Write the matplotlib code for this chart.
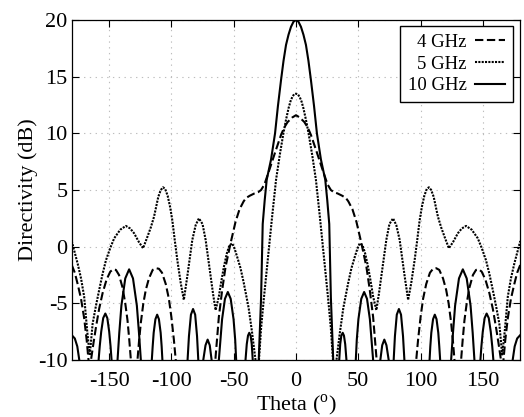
import numpy as np
import matplotlib
matplotlib.use('Agg')
import matplotlib.pyplot as plt

# right half of each pattern (theta >= 0), the plot is symmetric about 0
theta_4 = [0, 3, 6.7, 9.5, 12, 16.5, 21.3, 25.3, 28, 30.5, 33.3, 37, 40, 42, 45.3, 48.5, 52.5, 56.5, 59.2, 61.9, 64.5, 67,
           80, 96.5, 98, 100, 102, 104.5, 107.5, 110, 112.5, 115, 118, 120.5, 122.5, 124.5, 126, 127.2, 129.9,
           132.5, 133.8, 135.2, 137, 139.2, 142, 144.5, 146.7, 149, 152, 155.2, 158, 160.5, 162.5, 164.5, 165.5,
           166.5, 168, 170, 172.5, 175.2, 177.5, 180]
dir_4 = [11.6, 11.4, 11.0, 10.5, 9.86, 8.4, 6.8, 5.5, 5.0, 4.8, 4.7, 4.5, 4.3, 4.0, 3.3, 2.2, 0.3, -1.77, -3.8, -6.2, -9.7, -14,
         -30, -10, -8.2, -6.2, -4.6, -3.3, -2.3, -1.95, -1.9, -2.05, -2.8, -3.8, -5.0, -6.7, -8.4, -10, -16,
         -10, -8.2, -6.5, -5.0, -3.6, -2.5, -2.05, -2.0, -2.2, -2.9, -4.1, -5.5, -7.1, -8.5, -10, -13,
         -10, -8.2, -6.3, -4.6, -3.3, -2.3, -1.6]

theta_5 = [0, 1.5, 3, 4.5, 6, 8, 10.1, 13, 16, 19.2, 22.5, 25.9, 28, 29.7, 31, 32.5,
           35.2, 38, 41.9, 44.5, 47.2, 49.2, 51.2, 53.5, 55.5, 57.9, 60, 61.9, 64.5,
           66.5, 68.5, 70.5, 72.5, 75, 77.9, 80.5, 83.2, 85.2, 87.2, 90,
           92.5, 95.2, 97.2, 99.2, 101, 103, 105, 106.7, 108.5, 110.5, 113.9, 116.5, 119.2, 122.7,
           126, 129.9, 133, 136.5, 141, 145.9, 149, 152.5, 155.2, 157.9, 160.5, 163.2, 165.5,
           167.5, 170, 172.5, 175.2, 180]
dir_5 = [13.5, 13.45, 13.2, 12.8, 12.2, 11.2, 10.0, 8.1, 5.9, 2.6, -1.0, -4.7, -7.2, -10, -13, -10,
         -7.6, -5.4, -3.2, -1.9, -0.9, -0.2, 0.3, 0.1, -0.6, -1.8, -3.1, -4.4, -5.6,
         -4.2, -2.6, -1.0, 0.6, 2.0, 2.5, 1.9, 0.6, -1.0, -2.6, -4.7,
         -3.2, -1.2, 0.5, 2.3, 3.5, 4.5, 5.1, 5.24, 5.0, 4.4, 2.65, 1.7, 0.88, -0.14,
         0.4, 1.18, 1.6, 1.83, 1.5, 0.74, -0.1, -1.2, -2.4, -3.8, -5.2, -6.8, -9.6,
         -7.5, -4.4, -2.8, -1.5, 0.5]

theta_10 = [0, 2, 4, 6, 8, 10, 12, 14.5, 16.8, 20, 23.5, 25.1, 26.7, 28, 29.9, 31.8,
            34.7, 35.5, 36.4, 37.5, 38.5, 39.5, 40.5, 44,
            48, 48.8, 50.1, 52.4, 54.7, 57.0, 59.3, 60.6, 61.9, 64.8,
            67.7, 69.2, 70.9, 72.6, 74.4, 76,
            78.4, 79.4, 80.9, 82.6, 84.3, 85.9, 87, 97,
            107.2, 107.8, 108.6, 110, 111.4, 112.8, 114.2, 115, 115.7, 120,
            124.5, 126, 127.7, 130.8, 133.9, 137, 140.1, 141.8, 143.2, 145.6,
            148, 148.8, 149.9, 151.4, 153, 154.7, 156.3, 157.5, 158.4, 165,
            173.9, 175.5, 177.5, 180]
dir_10 = [20, 19.85, 19.4, 18.7, 17.8, 16.4, 14.7, 12.4, 10, 7.7, 5.9, 4.1, 2.0, -4.5, -10, -25,
          -10, -8.6, -7.85, -7.6, -7.85, -8.6, -10, -25,
          -10, -8.2, -6.4, -4.6, -4.0, -4.6, -6.4, -8.2, -10, -25,
          -10, -8.7, -8.2, -8.7, -10, -25,
          -10, -7.9, -6.0, -5.5, -6.0, -7.9, -10, -25,
          -10, -8.8, -7.6, -6.4, -6.0, -6.4, -7.6, -8.8, -10, -25,
          -10, -7.6, -5.2, -2.8, -2.0, -2.8, -5.2, -7.6, -10, -25,
          -10, -8.8, -7.5, -6.3, -5.9, -6.3, -7.5, -8.8, -10, -25,
          -10, -8.8, -8.1, -7.8]

labels = ['4 GHz', '5 GHz', '10 GHz']


def mirror(t, d):
    t = np.asarray(t, dtype=float)
    d = np.asarray(d, dtype=float)
    return np.concatenate([-t[:0:-1], t]), np.concatenate([d[:0:-1], d])


plt.rcParams['font.family'] = ['Liberation Serif', 'DejaVu Serif']
plt.rcParams['mathtext.fontset'] = 'custom'
plt.rcParams['mathtext.rm'] = 'Liberation Serif'
plt.rcParams['axes.unicode_minus'] = False

fig = plt.figure(figsize=(5.24, 4.17), dpi=100)
ax = fig.add_axes([0.1368, 0.1367, 0.8561, 0.8153])

t, d = mirror(theta_4, dir_4)
ax.plot(t, d, color='black', lw=1.5, dashes=(4, 1.7), label=labels[0])
t, d = mirror(theta_5, dir_5)
ax.plot(t, d, color='black', lw=1.5, dashes=(1, 0.6), label=labels[1])
t, d = mirror(theta_10, dir_10)
ax.plot(t, d, color='black', lw=1.5, label=labels[2])

ax.set_xlim(-180, 180)
ax.set_ylim(-10, 20)
ax.set_xticks([-150, -100, -50, 0, 50, 100, 150])
ax.set_yticks([-10, -5, 0, 5, 10, 15, 20])
ax.grid(True, color='#bdbdbd', lw=0.8, dashes=(1.2, 4))
ax.tick_params(direction='in', length=5, width=0.8, labelsize=16,
               top=True, right=True)
ax.tick_params(axis='x', pad=9)
ax.tick_params(axis='y', pad=3)
for s in ax.spines.values():
    s.set_linewidth(0.9)
    s.set_color('black')

ax.set_xlabel(r'Theta ($^{\mathrm{o}}$)', fontsize=16, labelpad=1)
ax.set_ylabel('Directivity (dB)', fontsize=16, labelpad=0)

ax.legend(loc='upper right', bbox_to_anchor=(0.983, 0.982), borderaxespad=0,
          markerfirst=False, fontsize=13.5, handlelength=1.6, handletextpad=0.45,
          labelspacing=0.25, borderpad=0.4, fancybox=False, framealpha=1,
          edgecolor='black')

fig.savefig('out.png', dpi=100)
